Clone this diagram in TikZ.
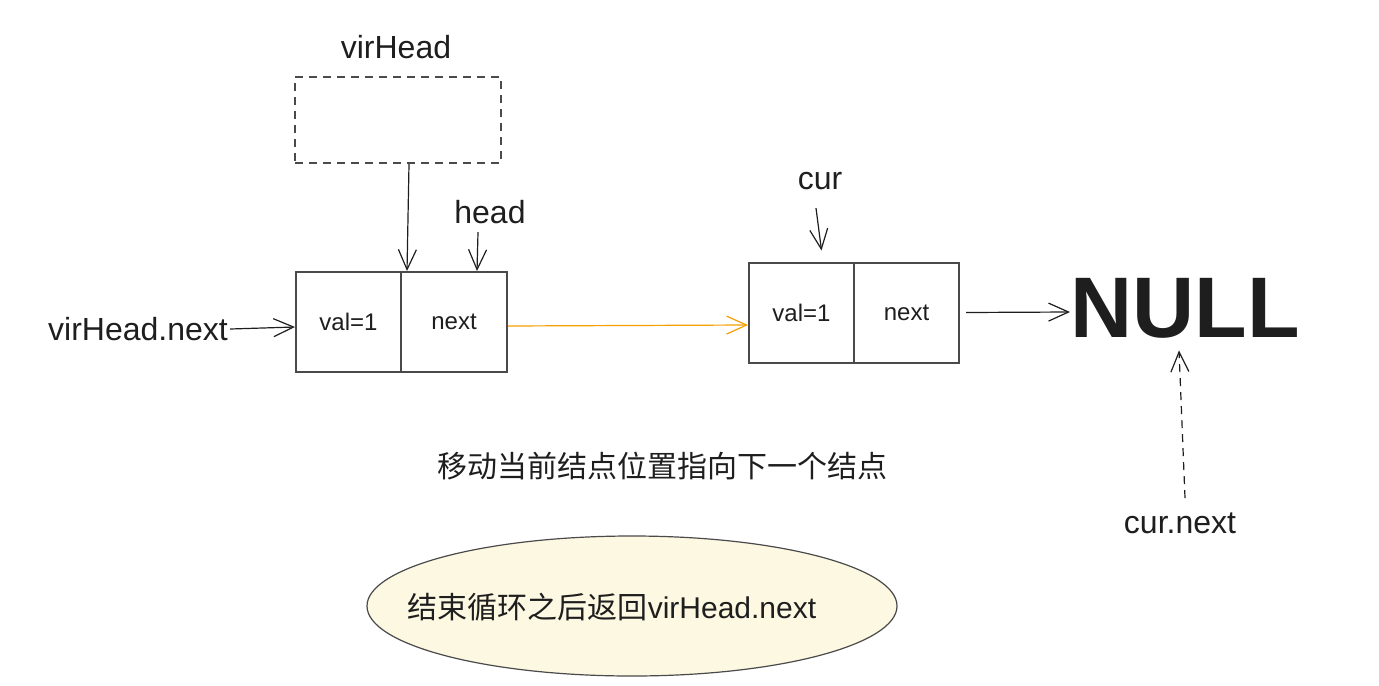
\documentclass[tikz,border=0pt]{standalone}
\usepackage{fontspec}
\setmainfont{Liberation Sans}
\newfontfamily\cjk{Noto Sans CJK SC}
\usetikzlibrary{arrows.meta,shapes.geometric,calc}
\definecolor{ink}{HTML}{1E1E1E}
\definecolor{boxline}{HTML}{4A4A4A}
\definecolor{orangeline}{HTML}{F59F00}
\definecolor{ellfill}{RGB}{253,248,226}
\begin{document}
\begin{tikzpicture}[x=0.5pt,y=-0.5pt,
  every node/.style={text=ink},
  lbl/.style={font=\fontsize{16}{18}\selectfont, inner sep=1pt},
  cell/.style={draw=boxline, line width=1pt, minimum width=52.5pt, minimum height=50pt, inner sep=0pt, font=\fontsize{12}{14}\selectfont},
  arr/.style={draw=ink, line width=0.6pt, -{Straight Barb[length=10pt,width=9pt]}},
]
\useasboundingbox (0,0) rectangle (1379,685);
% virHead dashed box
\node[lbl] (vhl) at (396,47) {virHead};
\node[draw=boxline, line width=1pt, dash pattern=on 4pt off 3pt, minimum width=103pt, minimum height=43pt, inner sep=0pt] (vh) at (398,120) {};
% first node
\node[cell] (n1v) at (348.5,322) {val=1};
\node[cell, minimum width=53pt] (n1n) at (454,322) {next};
\node[lbl] (head) at (490,212) {head};
\node[lbl] (vhn) at (138,329) {virHead.next};
% second node
\node[cell] (n2v) at (801.5,312.5) {val=1};
\node[cell] (n2n) at (906.5,312.5) {next};
\node[lbl] (cur) at (820,181) {cur};
% NULL
\node[font=\fontsize{43}{48}\selectfont\bfseries, inner sep=2pt] (null) at (1185,308) {NULL};
\node[lbl] (cnext) at (1180,523) {cur.next};
% texts
\node[font=\fontsize{15}{18}\selectfont\cjk] (msg) at (662,466) {移动当前结点位置指向下一个结点};
\node[ellipse, draw=boxline, line width=0.6pt, fill=ellfill, minimum width=265pt, minimum height=70pt, inner sep=0pt] (ret) at (632,606) {};
\node[font=\fontsize{15}{18}\selectfont, inner sep=0pt] (rettext) at (612,607) {{\cjk 结束循环之后返回}virHead.next};
% connectors
\draw[arr] ([xshift=5.5pt]vh.south) -- ([xshift=2.5pt]n1v.north east);
\draw[arr] ([xshift=-6pt,yshift=-3pt]head.south) -- ([xshift=11.5pt]n1n.north);
\draw[arr] (vhn.east) -- ([yshift=-2.5pt]n1v.west);
\draw[arr, draw=orangeline] ([yshift=-2pt]n1n.east) -- ([yshift=-6.25pt]n2v.west);
\draw[arr] ([xshift=-2pt,yshift=-8pt]cur.south) -- ([xshift=10pt,yshift=5.5pt]n2v.north);
\draw[arr] ([xshift=3pt]n2n.east) -- ([xshift=2pt,yshift=-2pt]null.west);
\draw[arr, dash pattern=on 4pt off 3pt] ([xshift=2.5pt,yshift=6pt]cnext.north) -- ([xshift=-3pt,yshift=-4pt]null.south);
\end{tikzpicture}
\end{document}
